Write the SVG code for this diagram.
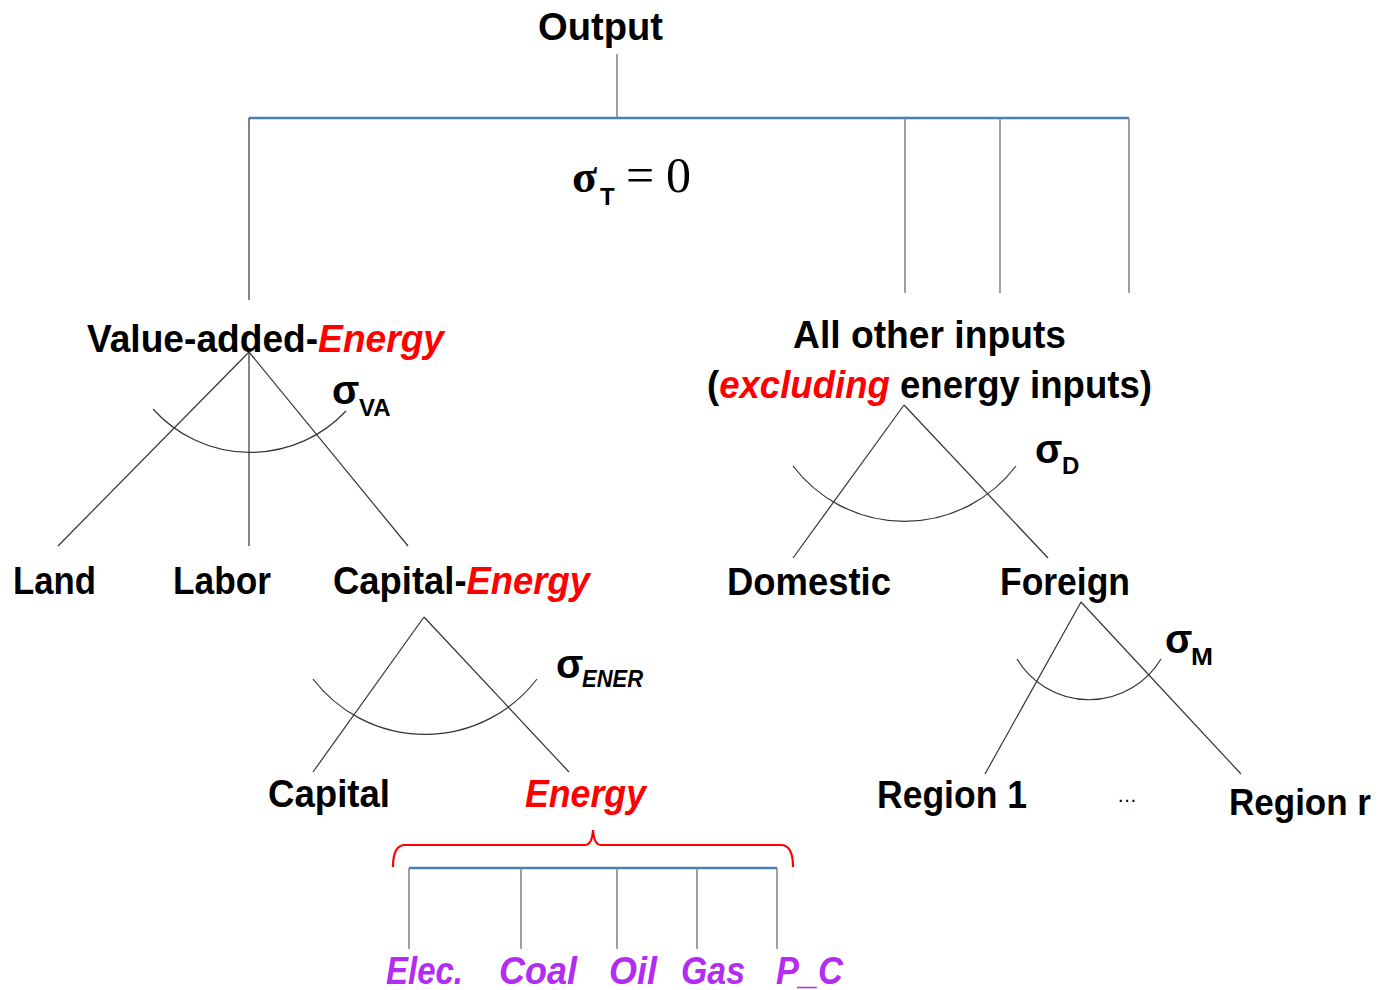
<svg xmlns="http://www.w3.org/2000/svg" width="1382" height="990" viewBox="0 0 1382 990">
<style>
.lbl{font-family:"Liberation Sans",Arial,sans-serif;font-weight:bold;font-size:39px;fill:#000}
.red{fill:#ff0000;font-style:italic}
.pur{font-family:"Liberation Sans",Arial,sans-serif;font-weight:bold;font-style:italic;font-size:39px;fill:#b22cf2}
.sig{font-family:"Liberation Sans",Arial,sans-serif;font-weight:bold;font-size:40px;fill:#000}
.sub{font-family:"Liberation Sans",Arial,sans-serif;font-weight:bold;font-size:24px;fill:#000}
.tree{stroke:#333;stroke-width:1.2;fill:none}
.gray{stroke:#888;stroke-width:1.6;fill:none}
.blue{stroke:#4a7ebb;stroke-width:2.6;fill:none}
</style>
<rect width="1382" height="990" fill="#fff"/>
<g id="connectors">
<line class="gray" x1="617" y1="54" x2="617" y2="118"/>
<line class="blue" x1="249" y1="118" x2="1129" y2="118"/>
<line class="tree" x1="249" y1="118" x2="249" y2="300" stroke="#222"/>
<line class="gray" x1="905" y1="118" x2="905" y2="293"/>
<line class="gray" x1="1000" y1="118" x2="1000" y2="293"/>
<line class="gray" x1="1129" y1="118" x2="1129" y2="293"/>
<line class="tree" x1="249" y1="352" x2="58" y2="546"/>
<line class="tree" x1="249" y1="352" x2="249" y2="546" stroke="#000"/>
<line class="tree" x1="249" y1="352" x2="408" y2="546"/>
<path class="tree" d="M153,409 A131,131 0 0 0 346,411"/>
<line class="tree" x1="424" y1="617" x2="313" y2="772"/>
<line class="tree" x1="424" y1="617" x2="569" y2="772"/>
<path class="tree" d="M313,679 A141,141 0 0 0 537,679"/>
<line class="tree" x1="904" y1="405" x2="793" y2="558"/>
<line class="tree" x1="904" y1="405" x2="1048" y2="558"/>
<path class="tree" d="M793,466 A140,140 0 0 0 1016,466"/>
<line class="tree" x1="1081" y1="602" x2="985" y2="774"/>
<line class="tree" x1="1081" y1="602" x2="1241" y2="774"/>
<path class="tree" d="M1017,659 A84,84 0 0 0 1161,659"/>
<path d="M393,867 Q393,845 405,845 L585,845 Q592,845 593,830 Q594,845 601,845 L781,845 Q793,845 793,867" fill="none" stroke="#ff0000" stroke-width="2.2"/>
<line class="blue" x1="409" y1="868" x2="777" y2="868"/>
<line class="gray" x1="409" y1="868" x2="409" y2="949"/>
<line class="gray" x1="521" y1="868" x2="521" y2="949"/>
<line class="gray" x1="617" y1="868" x2="617" y2="949"/>
<line class="gray" x1="697" y1="868" x2="697" y2="949"/>
<line class="gray" x1="777" y1="868" x2="777" y2="949"/>
</g>
<g id="output"><text class="lbl" x="538" y="40" textLength="125" lengthAdjust="spacingAndGlyphs">Output</text></g>
<g id="sigmaT">
<text x="572" y="192" font-family="Liberation Serif,serif" font-weight="bold" font-size="46">σ</text>
<text class="sub" x="600" y="205">T</text>
<text x="626" y="192" font-family="Liberation Serif,serif" font-size="50">=</text>
<text x="666" y="192" font-family="Liberation Serif,serif" font-size="50">0</text>
</g>
<g id="va"><text class="lbl" x="87" y="352" textLength="357" lengthAdjust="spacingAndGlyphs">Value-added-<tspan class="red">Energy</tspan></text></g>
<g id="sigmaVA"><text class="sig" x="332" y="404">σ</text><text class="sub" x="359" y="416">VA</text></g>
<g id="land"><text class="lbl" x="13" y="594" textLength="83" lengthAdjust="spacingAndGlyphs">Land</text></g>
<g id="labor"><text class="lbl" x="173" y="594" textLength="98" lengthAdjust="spacingAndGlyphs">Labor</text></g>
<g id="capenergy"><text class="lbl" x="333" y="594" textLength="257" lengthAdjust="spacingAndGlyphs">Capital-<tspan class="red">Energy</tspan></text></g>
<g id="sigmaENER"><text class="sig" x="556" y="678">σ</text><text class="sub" x="582" y="687" font-style="italic" textLength="61" lengthAdjust="spacingAndGlyphs">ENER</text></g>
<g id="capital"><text class="lbl" x="268" y="807" textLength="122" lengthAdjust="spacingAndGlyphs">Capital</text></g>
<g id="energy"><text class="lbl red" x="525" y="807" textLength="121" lengthAdjust="spacingAndGlyphs">Energy</text></g>
<g id="other"><text class="lbl" x="793" y="348" textLength="273" lengthAdjust="spacingAndGlyphs">All other inputs</text>
<text class="lbl" x="707" y="398" textLength="445" lengthAdjust="spacingAndGlyphs">(<tspan class="red">excluding</tspan> energy inputs)</text></g>
<g id="sigmaD"><text class="sig" x="1035" y="463">σ</text><text class="sub" x="1062" y="474">D</text></g>
<g id="domestic"><text class="lbl" x="727" y="595" textLength="164" lengthAdjust="spacingAndGlyphs">Domestic</text></g>
<g id="foreign"><text class="lbl" x="1000" y="595" textLength="130" lengthAdjust="spacingAndGlyphs">Foreign</text></g>
<g id="sigmaM"><text class="sig" x="1165" y="653">σ</text><text class="sub" x="1191" y="665" textLength="22" lengthAdjust="spacingAndGlyphs">M</text></g>
<g id="region1"><text class="lbl" x="877" y="808" textLength="150" lengthAdjust="spacingAndGlyphs">Region 1</text></g>
<g id="dots"><text x="1117" y="802" font-family="Liberation Sans,Arial,sans-serif" font-size="20">…</text></g>
<g id="regionr"><text class="lbl" x="1229" y="815" font-size="37" style="font-size:37px" textLength="142" lengthAdjust="spacingAndGlyphs">Region r</text></g>
<g id="elec"><text class="pur" x="386" y="984" textLength="77" lengthAdjust="spacingAndGlyphs">Elec.</text></g>
<g id="coal"><text class="pur" x="499" y="984" textLength="78" lengthAdjust="spacingAndGlyphs">Coal</text></g>
<g id="oil"><text class="pur" x="609" y="984" textLength="48" lengthAdjust="spacingAndGlyphs">Oil</text></g>
<g id="gas"><text class="pur" x="681" y="984" textLength="64" lengthAdjust="spacingAndGlyphs">Gas</text></g>
<g id="pc"><text class="pur" x="776" y="984" textLength="67" lengthAdjust="spacingAndGlyphs">P_C</text></g>
</svg>
